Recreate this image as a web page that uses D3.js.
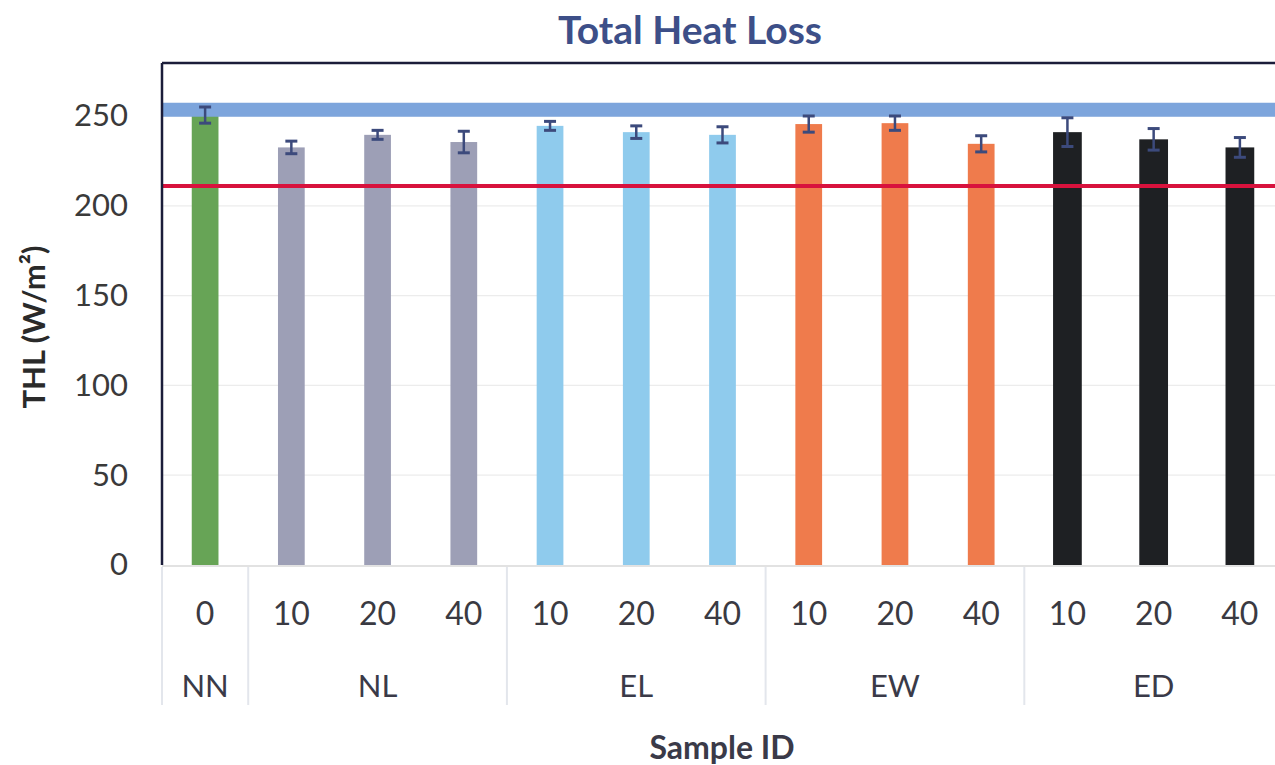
<!DOCTYPE html>
<html><head><meta charset="utf-8">
<script src="https://cdn.jsdelivr.net/npm/d3@7"></script>
<style>body{margin:0;background:#fff}svg{display:block}</style>
</head><body>
<svg id="c" width="1275" height="765"></svg>
<script>
const groups = ["NN","NL","NL","NL","EL","EL","EL","EW","EW","EW","ED","ED","ED"];
const levels = ["0","10","20","40","10","20","40","10","20","40","10","20","40"];
const values = [250.5, 232.5, 239.5, 235.5, 244.5, 241, 239.5, 245.5, 246, 234.5, 241, 237, 232.5];
const errors = [4.5, 3.5, 2.5, 6, 2.5, 3.5, 4.5, 4.5, 4, 4.5, 8, 6, 5.5];
const groupNames = ["NN","NL","EL","EW","ED"];
const groupColors = {NN:"#67a456", NL:"#9d9fb6", EL:"#8fcbed", EW:"#ef7b4c", ED:"#1e2023"};
const yTicks = [0,50,100,150,200,250];
const refBlue = 253.5, refRed = 211;

(function(){
const svg = d3.select("#c");
const font = "Lato, 'Open Sans', sans-serif";
const pLeft = 162, pRight = 1283, pTop = 63, base = 565;
const ids = values.map((v,i)=>i);
const x = d3.scaleBand().domain(ids).range([pLeft,pRight]).paddingInner(0.69).paddingOuter(0.345);
const y = d3.scaleLinear().domain([0,279.5]).range([base,pTop]);

svg.append("g").selectAll("line").data(yTicks.slice(1)).join("line")
  .attr("x1",pLeft).attr("x2",1275).attr("y1",d=>y(d)).attr("y2",d=>y(d))
  .attr("stroke","#ececec").attr("stroke-width",1.2);

svg.append("g").selectAll("rect").data(ids).join("rect")
  .attr("x",i=>x(i)-(groups[i]==="ED"?1:0)).attr("width",i=>x.bandwidth()+(groups[i]==="ED"?2:0))
  .attr("y",i=>y(values[i])).attr("height",i=>base-y(values[i]))
  .attr("fill",i=>groupColors[groups[i]]);

svg.append("line").attr("x1",pLeft).attr("x2",1275).attr("y1",base+1).attr("y2",base+1)
  .attr("stroke","#d9d9d9").attr("stroke-width",1.5);

svg.append("line").attr("x1",pLeft).attr("x2",1275).attr("y1",y(refBlue)).attr("y2",y(refBlue))
  .attr("stroke","#7da5dc").attr("stroke-width",14);
svg.append("line").attr("x1",pLeft).attr("x2",1275).attr("y1",y(refRed)).attr("y2",y(refRed))
  .attr("stroke","#d8123d").attr("stroke-width",4);

const eb = svg.append("g").attr("stroke","#3c4a7c").attr("stroke-width",2.5);
ids.forEach(i=>{
  const cx = x(i)+x.bandwidth()/2;
  const y1 = y(values[i]+errors[i]), y2 = y(values[i]-errors[i]);
  eb.append("line").attr("x1",cx).attr("x2",cx).attr("y1",y1).attr("y2",y2);
  eb.append("line").attr("x1",cx-6).attr("x2",cx+6).attr("y1",y1).attr("y2",y1).attr("stroke-width",3);
  eb.append("line").attr("x1",cx-6).attr("x2",cx+6).attr("y1",y2).attr("y2",y2).attr("stroke-width",3);
});

svg.append("line").attr("x1",pLeft).attr("x2",pLeft).attr("y1",pTop).attr("y2",base)
  .attr("stroke","#1b1d3a").attr("stroke-width",2.5);
svg.append("line").attr("x1",pLeft).attr("x2",1275).attr("y1",pTop).attr("y2",pTop)
  .attr("stroke","#1b1d3a").attr("stroke-width",2.5);

const yAxis = d3.axisLeft(y).tickValues(yTicks).tickSize(0).tickPadding(34);
const ya = svg.append("g").attr("transform",`translate(${pLeft},0)`).call(yAxis);
ya.select(".domain").remove();
ya.selectAll("text").attr("font-family",font).attr("font-size",31).attr("fill","#3a3a3a");

svg.append("g").selectAll("text").data(ids).join("text")
  .attr("x",i=>x(i)+x.bandwidth()/2).attr("y",625).attr("text-anchor","middle")
  .attr("font-family",font).attr("font-size",32).attr("fill","#3a3a42")
  .text(i=>levels[i]);

const bounds = [];
groupNames.forEach(g=>{
  const idx = ids.filter(i=>groups[i]===g);
  const a = x(idx[0]) - x.step()*x.paddingInner()/2;
  const b = x(idx[idx.length-1]) + x.bandwidth() + x.step()*x.paddingInner()/2;
  bounds.push({g,a,b});
});
const sep = svg.append("g").attr("stroke","#e3e6ec").attr("stroke-width",2);
bounds.forEach((d,k)=>{
  const xx = k===0?pLeft:d.a;
  sep.append("line").attr("x1",xx).attr("x2",xx).attr("y1",base+2).attr("y2",705);
});
svg.append("g").selectAll("text").data(bounds).join("text")
  .attr("x",d=>((d.g==="NN"?pLeft:d.a)+d.b)/2).attr("y",697).attr("text-anchor","middle")
  .attr("font-family",font).attr("font-size",31).attr("fill","#3a3a48")
  .text(d=>d.g);

svg.append("text").attr("x",690).attr("y",44).attr("text-anchor","middle")
  .attr("font-family",font).attr("font-weight","bold").attr("font-size",39).attr("fill","#3d4f88")
  .text("Total Heat Loss");
svg.append("text").attr("x",722).attr("y",759).attr("text-anchor","middle")
  .attr("font-family",font).attr("font-weight","bold").attr("font-size",32).attr("fill","#3a3a48")
  .text("Sample ID");
svg.append("text").attr("transform","translate(45,327) rotate(-90)").attr("text-anchor","middle")
  .attr("font-family",font).attr("font-weight","bold").attr("font-size",31).attr("fill","#2a2a2a")
  .text("THL (W/m²)");
})();
</script>
</body></html>
